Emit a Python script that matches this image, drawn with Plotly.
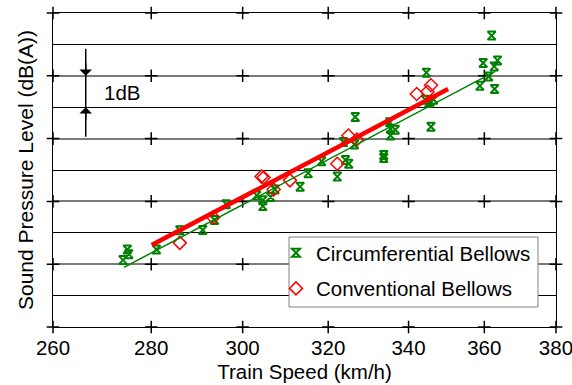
import math
import plotly.graph_objects as go

# ---- data (train speed km/h, relative sound pressure level dB) ----
circ_speed = [274.1, 275.0, 275.3, 281.1, 286.1, 291.1, 293.7, 296.3, 303.2, 304.6,
              304.6, 306.4, 307.4, 313.3, 315.2, 318.4, 322.2, 324.2, 325.0, 323.7,
              326.4, 326.6, 333.7, 333.7, 335.2, 335.4, 336.6, 335.4, 344.6, 344.3,
              345.6, 346.5, 345.2, 345.8, 359.7, 362.0, 358.8, 362.8, 361.2, 362.7,
              363.6]
circ_level = [2.13, 2.47, 2.32, 2.47, 3.08, 3.09, 3.41, 3.91, 4.19, 4.04,
              3.85, 4.14, 4.38, 4.47, 4.90, 5.28, 4.79, 5.32, 5.20, 5.89,
              5.81, 6.69, 5.48, 5.38, 6.52, 6.31, 6.28, 6.10, 8.10, 7.24,
              7.18, 7.24, 7.13, 6.38, 8.41, 9.28, 7.68, 7.58, 7.98, 8.30,
              8.49]

conv_speed = [286.1, 293.4, 304.3, 304.8, 307.1, 310.9, 322.2, 324.9, 327.0,
              342.1, 344.9, 345.8]
conv_level = [2.68, 3.49, 4.79, 4.76, 4.38, 4.67, 5.20, 6.10, 5.97,
              7.42, 7.49, 7.70]

# fitted trend lines (end points)
circ_fit_speed = [274.3, 363.0]
circ_fit_level = [1.90, 8.14]
conv_fit_speed = [280.1, 350.3]
conv_fit_level = [2.61, 7.58]

x_ticks = [260, 280, 300, 320, 340, 360, 380]
y_major = [0, 2, 4, 6, 8, 10]

# 1 dB scale marker
scale_speed = 266.5
scale_top, scale_bottom = 8.86, 6.06
scale_hi, scale_lo = 8, 7

FONT = "Liberation Sans, Arial, sans-serif"
FS = 20.5

fig = go.Figure()

# "+" tick marks at major intersections
cx, cy = [], []
for xv in x_ticks:
    for yv in y_major:
        cx.append(xv)
        cy.append(yv)
fig.add_trace(go.Scatter(x=cx, y=cy, mode="markers", showlegend=False,
                         hoverinfo="skip", cliponaxis=False,
                         marker=dict(symbol="cross-thin-open", size=9, color="black",
                                     line=dict(color="black", width=1.5))))

fig.add_trace(go.Scatter(x=circ_speed, y=circ_level, mode="markers",
                         name="Circumferential Bellows", legendgroup="a",
                         marker=dict(symbol="hourglass-open", size=8, color="#008000",
                                     line=dict(color="#008000", width=2))))
fig.add_trace(go.Scatter(x=conv_speed, y=conv_level, mode="markers",
                         name="Conventional Bellows", legendgroup="b",
                         marker=dict(symbol="diamond-open", size=10, color="#ff0000",
                                     line=dict(color="#ff0000", width=1.5))))
fig.add_trace(go.Scatter(x=circ_fit_speed, y=circ_fit_level, mode="lines",
                         showlegend=False, hoverinfo="skip",
                         line=dict(color="#008000", width=1.5)))
fig.add_trace(go.Scatter(x=conv_fit_speed, y=conv_fit_level, mode="lines",
                         showlegend=False, hoverinfo="skip",
                         line=dict(color="#ff0000", width=4.5)))

# 1dB scale bar
fig.add_trace(go.Scatter(x=[scale_speed, scale_speed], y=[scale_top, scale_bottom],
                         mode="lines", showlegend=False, hoverinfo="skip",
                         line=dict(color="black", width=1.5)))
lx = math.log10(scale_speed)
fig.add_annotation(x=lx, y=scale_hi, xref="x", yref="y", text="", showarrow=True,
                   ax=0, ay=-14, arrowhead=1, arrowsize=1.4, arrowwidth=1.5,
                   arrowcolor="black")
fig.add_annotation(x=lx, y=scale_lo, xref="x", yref="y", text="", showarrow=True,
                   ax=0, ay=14, arrowhead=1, arrowsize=1.4, arrowwidth=1.5,
                   arrowcolor="black")
fig.add_annotation(x=math.log10(273.9), y=7.48, xref="x", yref="y", text="1dB",
                   showarrow=False, font=dict(family=FONT, size=FS, color="black"))

# legend frame
fig.add_shape(type="rect", xref="paper", yref="paper",
              x0=0.4692, x1=0.9642, y0=0.0637, y1=0.2866, layer="above",
              fillcolor="white", line=dict(color="#808080", width=1))

fig.update_layout(
    width=572, height=385, autosize=False,
    margin=dict(l=53, r=16, t=13, b=58, autoexpand=False),
    paper_bgcolor="white", plot_bgcolor="white",
    font=dict(family=FONT, size=FS, color="black"),
    showlegend=True,
    legend=dict(x=0.4433, y=0.2996, xanchor="left", yanchor="top",
                bgcolor="rgba(0,0,0,0)", borderwidth=0,
                font=dict(family=FONT, size=FS, color="black"),
                traceorder="grouped", tracegroupgap=6),
    xaxis=dict(type="log", range=[math.log10(260), math.log10(380) + 1e-5],
               tickvals=x_ticks, ticktext=[str(v) for v in x_ticks],
               ticks="", showgrid=False, zeroline=False, ticklabeloverflow="allow",
               ticklabelstandoff=2, automargin=False,
               showline=True, linecolor="black", linewidth=1, mirror=True,
               tickfont=dict(family=FONT, size=FS, color="black"),
               title=dict(text="Train Speed (km/h)", standoff=7,
                          font=dict(family=FONT, size=FS, color="black"))),
    yaxis=dict(range=[0, 10], tick0=0, dtick=2, ticks="", showticklabels=False,
               showgrid=True, gridcolor="#7a7a7a", gridwidth=1.5,
               minor=dict(dtick=1, showgrid=True, gridcolor="black", gridwidth=1),
               zeroline=False, showline=True, linecolor="black", linewidth=1,
               mirror=True, automargin=False,
               title=dict(text="Sound Pressure Level (dB(A))", standoff=12,
                          font=dict(family=FONT, size=21, color="black"))),
)

fig.write_html("out.html")
